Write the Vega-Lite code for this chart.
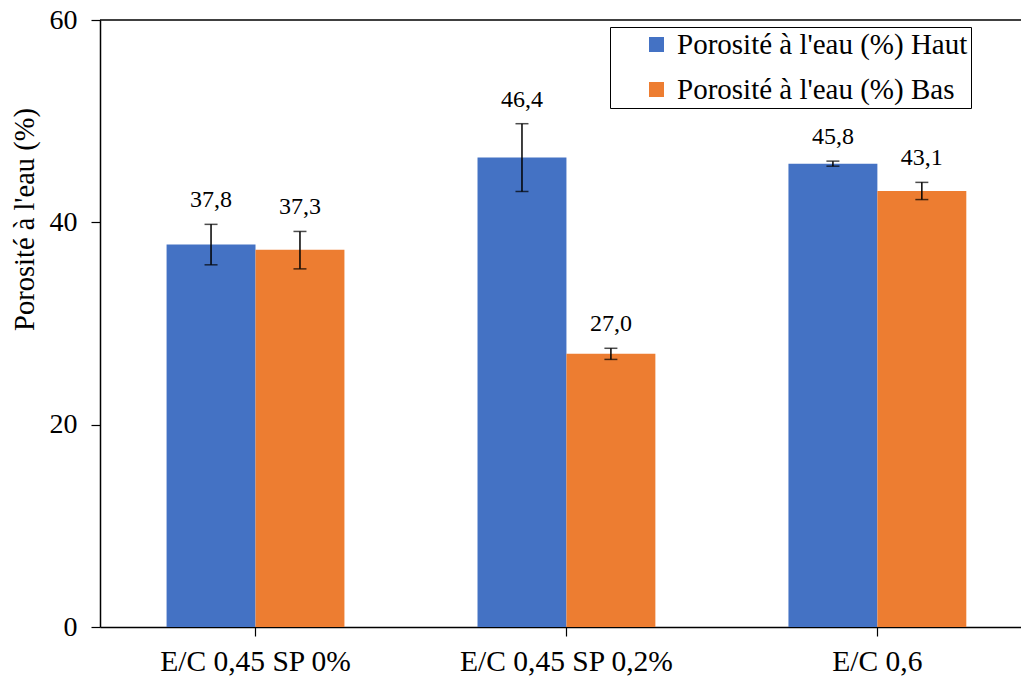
{
  "$schema": "https://vega.github.io/schema/vega-lite/v6.json",
  "autosize": "none",
  "padding": {"left": 100, "top": 20, "right": 0, "bottom": 53},
  "width": 921,
  "height": 607,
  "background": "white",
  "config": {
    "view": {"stroke": null},
    "font": "Liberation Serif",
    "locale": {"number": {"decimal": ",", "thousands": " ", "grouping": [3], "currency": ["", " €"]}}
  },
  "data": {
    "values": [
      {"cat": "E/C 0,45 SP 0%", "serie": "Porosité à l'eau (%) Haut", "value": 37.8, "lo": 35.8, "hi": 39.8},
      {"cat": "E/C 0,45 SP 0%", "serie": "Porosité à l'eau (%) Bas", "value": 37.3, "lo": 35.4, "hi": 39.1},
      {"cat": "E/C 0,45 SP 0,2%", "serie": "Porosité à l'eau (%) Haut", "value": 46.4, "lo": 43.05, "hi": 49.75},
      {"cat": "E/C 0,45 SP 0,2%", "serie": "Porosité à l'eau (%) Bas", "value": 27.0, "lo": 26.45, "hi": 27.55},
      {"cat": "E/C 0,6", "serie": "Porosité à l'eau (%) Haut", "value": 45.8, "lo": 45.55, "hi": 46.05},
      {"cat": "E/C 0,6", "serie": "Porosité à l'eau (%) Bas", "value": 43.1, "lo": 42.25, "hi": 43.95}
    ]
  },
  "encoding": {
    "x": {
      "field": "cat", "type": "nominal", "sort": null,
      "scale": {"paddingInner": 0.428, "paddingOuter": 0.195, "align": 0.549},
      "axis": {
        "title": null, "labelAngle": 0, "labelFontSize": 29.5, "labelFont": "Liberation Serif",
        "labelColor": "black", "labelPadding": 11, "labelLimit": 600, "tickSize": 9, "tickColor": "black",
        "domainColor": "black", "domainWidth": 1.5, "tickWidth": 1.2
      }
    },
    "xOffset": {
      "field": "serie", "type": "nominal",
      "sort": ["Porosité à l'eau (%) Haut", "Porosité à l'eau (%) Bas"],
      "scale": {"paddingInner": 0, "paddingOuter": 0}
    }
  },
  "layer": [
    {
      "mark": {"type": "bar"},
      "encoding": {
        "y": {
          "field": "value", "type": "quantitative",
          "scale": {"domain": [0, 60], "nice": false},
          "axis": {
            "title": "Porosité à l'eau (%)", "titleFontSize": 28.5, "titleFont": "Liberation Serif",
            "titleFontWeight": "normal", "titleColor": "black",
            "titleX": -76, "titleY": 199, "titleAngle": -90, "titleAlign": "center", "titleBaseline": "middle",
            "values": [0, 20, 40, 60], "grid": false, "labelFontSize": 28, "labelFont": "Liberation Serif",
            "labelColor": "black", "labelPadding": 14, "tickSize": 9, "tickColor": "black", "tickWidth": 1.2,
            "domainColor": "black", "domainWidth": 1.5
          }
        },
        "color": {
          "field": "serie", "type": "nominal",
          "sort": ["Porosité à l'eau (%) Haut", "Porosité à l'eau (%) Bas"],
          "scale": {"range": ["#4472C4", "#ED7D31"]},
          "legend": {
            "title": null, "orient": "none", "legendX": 510, "legendY": 7,
            "strokeColor": "black", "fillColor": "white", "padding": 3,
            "symbolType": "square", "symbolSize": 225, "symbolStrokeWidth": 0,
            "symbolOffset": 29, "labelOffset": 6,
            "labelFontSize": 29, "labelFont": "Liberation Serif", "labelColor": "black",
            "labelLimit": 700, "rowPadding": 15,
            "labelExpr": "datum.label + '\u00a0\u00a0\u00a0\u00a0\u00a0\u00a0'"
          }
        }
      }
    },
    {
      "mark": {"type": "rule", "color": "black", "strokeWidth": 1.5},
      "encoding": {
        "y": {"field": "lo", "type": "quantitative"},
        "y2": {"field": "hi"}
      }
    },
    {
      "mark": {"type": "tick", "color": "black", "size": 13, "thickness": 1.5},
      "encoding": {"y": {"field": "lo", "type": "quantitative"}}
    },
    {
      "mark": {"type": "tick", "color": "black", "size": 13, "thickness": 1.5},
      "encoding": {"y": {"field": "hi", "type": "quantitative"}}
    },
    {
      "mark": {"type": "text", "baseline": "bottom", "dy": -12, "fontSize": 24, "font": "Liberation Serif", "color": "black"},
      "encoding": {
        "y": {"field": "hi", "type": "quantitative"},
        "text": {"field": "value", "type": "quantitative", "format": ".1f"}
      }
    },
    {
      "data": {"values": [{"v": 60}]},
      "mark": {"type": "rule", "color": "black", "strokeWidth": 1.5},
      "encoding": {
        "y": {"field": "v", "type": "quantitative"},
        "x": null,
        "xOffset": null
      }
    }
  ]
}
